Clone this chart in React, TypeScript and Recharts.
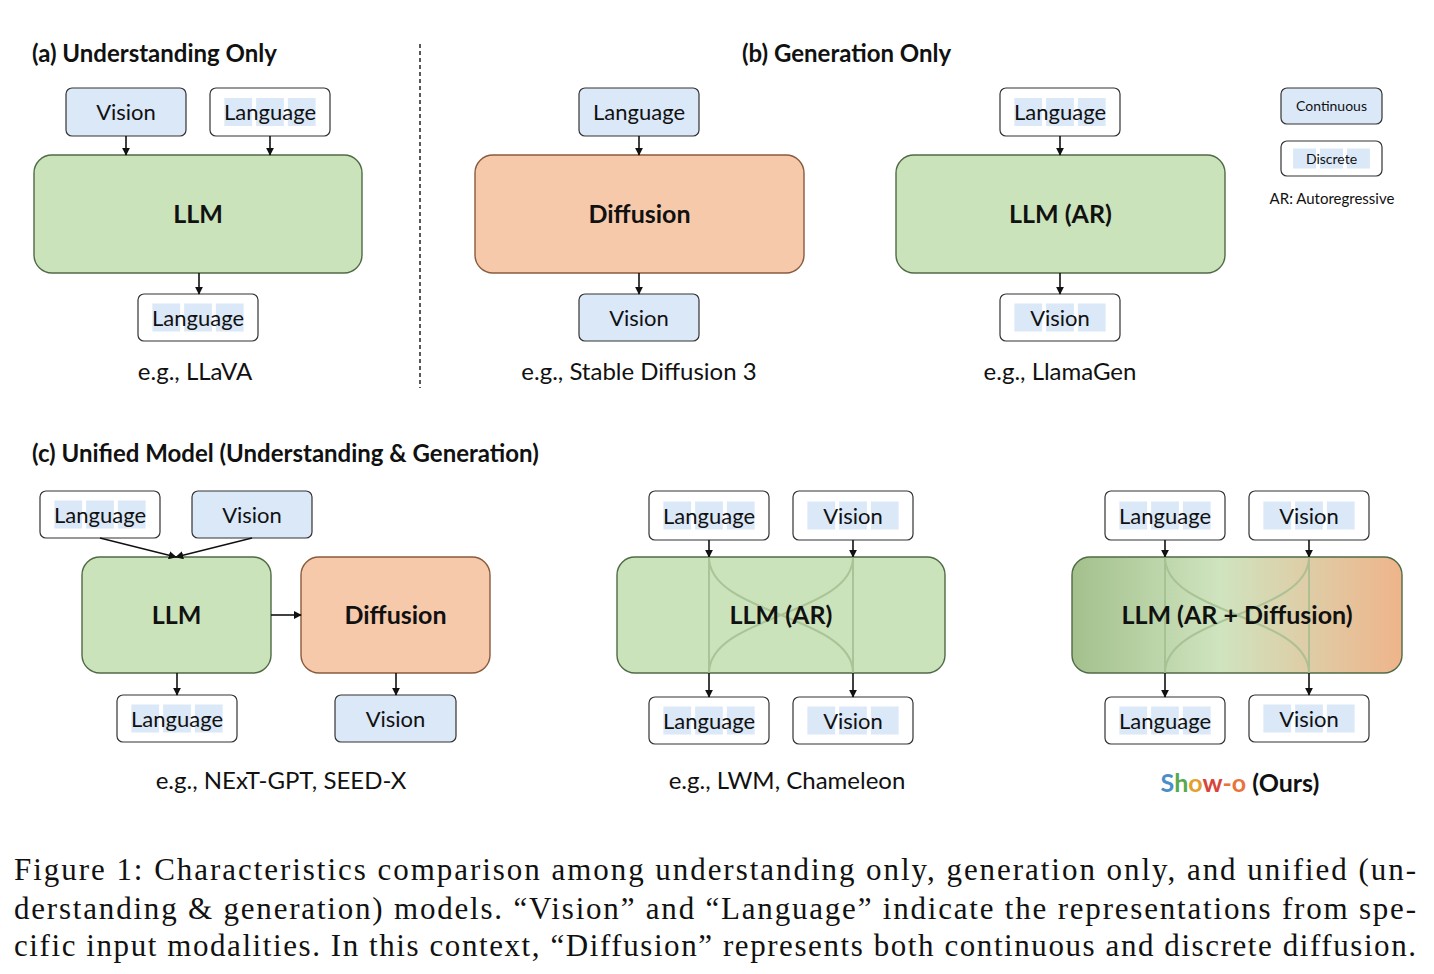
import React from 'react';
import { ComposedChart, Scatter, XAxis, YAxis } from 'recharts';

const W = 1434;
const H = 974;
const FONT = 'Lato, "Open Sans", sans-serif';

// boxes: label, x, y, w, h, kind
const smallBoxes = [
  { label: 'Vision', x: 66, y: 88, w: 120, h: 48, kind: 'cont' },
  { label: 'Language', x: 210, y: 88, w: 120, h: 48, kind: 'disc' },
  { label: 'Language', x: 138, y: 294, w: 120, h: 47, kind: 'disc' },
  { label: 'Language', x: 579, y: 88, w: 120, h: 48, kind: 'cont' },
  { label: 'Vision', x: 579, y: 294, w: 120, h: 47, kind: 'cont' },
  { label: 'Language', x: 1000, y: 88, w: 120, h: 48, kind: 'disc' },
  { label: 'Vision', x: 1000, y: 294, w: 120, h: 47, kind: 'disc' },
  { label: 'Language', x: 40, y: 491, w: 120, h: 47, kind: 'disc' },
  { label: 'Vision', x: 192, y: 491, w: 120, h: 47, kind: 'cont' },
  { label: 'Language', x: 117, y: 695, w: 120, h: 47, kind: 'disc' },
  { label: 'Vision', x: 335, y: 695, w: 121, h: 47, kind: 'cont' },
  { label: 'Language', x: 649, y: 491, w: 120, h: 49, kind: 'disc' },
  { label: 'Vision', x: 793, y: 491, w: 120, h: 49, kind: 'disc' },
  { label: 'Language', x: 649, y: 697, w: 120, h: 47, kind: 'disc' },
  { label: 'Vision', x: 793, y: 697, w: 120, h: 47, kind: 'disc' },
  { label: 'Language', x: 1105, y: 491, w: 120, h: 49, kind: 'disc' },
  { label: 'Vision', x: 1249, y: 491, w: 120, h: 49, kind: 'disc' },
  { label: 'Language', x: 1105, y: 697, w: 120, h: 47, kind: 'disc' },
  { label: 'Vision', x: 1249, y: 695, w: 120, h: 47, kind: 'disc' },
];

const legendBoxes = [
  { label: 'Continuous', x: 1281, y: 88, w: 101, h: 36, kind: 'cont' },
  { label: 'Discrete', x: 1281, y: 141, w: 101, h: 35, kind: 'disc' },
];

const bigBoxes = [
  { label: 'LLM', x: 34, y: 155, w: 328, h: 118, kind: 'green' },
  { label: 'Diffusion', x: 475, y: 155, w: 329, h: 118, kind: 'orange' },
  { label: 'LLM (AR)', x: 896, y: 155, w: 329, h: 118, kind: 'green' },
  { label: 'LLM', x: 82, y: 557, w: 189, h: 116, kind: 'green' },
  { label: 'Diffusion', x: 301, y: 557, w: 189, h: 116, kind: 'orange' },
  { label: 'LLM (AR)', x: 617, y: 557, w: 328, h: 116, kind: 'green', cross: [709, 853] },
  { label: 'LLM (AR + Diffusion)', x: 1072, y: 557, w: 330, h: 116, kind: 'grad', cross: [1165, 1309] },
];

const arrows = [
  { x: 126, y: 136, x2: 126, y2: 155 },
  { x: 270, y: 136, x2: 270, y2: 155 },
  { x: 199, y: 273, x2: 199, y2: 294 },
  { x: 639, y: 136, x2: 639, y2: 155 },
  { x: 639, y: 273, x2: 639, y2: 294 },
  { x: 1060, y: 136, x2: 1060, y2: 155 },
  { x: 1060, y: 273, x2: 1060, y2: 294 },
  { x: 100, y: 538, x2: 176, y2: 557 },
  { x: 252, y: 538, x2: 176, y2: 557 },
  { x: 271, y: 615, x2: 301, y2: 615 },
  { x: 177, y: 673, x2: 177, y2: 695 },
  { x: 396, y: 673, x2: 396, y2: 695 },
  { x: 709, y: 540, x2: 709, y2: 557 },
  { x: 853, y: 540, x2: 853, y2: 557 },
  { x: 709, y: 673, x2: 709, y2: 697 },
  { x: 853, y: 673, x2: 853, y2: 697 },
  { x: 1165, y: 540, x2: 1165, y2: 557 },
  { x: 1309, y: 540, x2: 1309, y2: 557 },
  { x: 1165, y: 673, x2: 1165, y2: 697 },
  { x: 1309, y: 673, x2: 1309, y2: 695 },
];

const labels = [
  { text: '(a) Understanding Only', x: 32, y: 62, size: 24, bold: true, anchor: 'start' },
  { text: '(b) Generation Only', x: 742, y: 62, size: 24, bold: true, anchor: 'start' },
  { text: '(c) Unified Model (Understanding & Generation)', x: 32, y: 462, size: 24, bold: true, anchor: 'start' },
  { text: 'e.g., LLaVA', x: 195, y: 380, size: 24, bold: false, anchor: 'middle' },
  { text: 'e.g., Stable Diffusion 3', x: 639, y: 380, size: 24, bold: false, anchor: 'middle' },
  { text: 'e.g., LlamaGen', x: 1060, y: 380, size: 24, bold: false, anchor: 'middle' },
  { text: 'AR: Autoregressive', x: 1332, y: 204, size: 15, bold: false, anchor: 'middle' },
  { text: 'e.g., NExT-GPT, SEED-X', x: 281, y: 789, size: 24, bold: false, anchor: 'middle' },
  { text: 'e.g., LWM, Chameleon', x: 787, y: 789, size: 24, bold: false, anchor: 'middle' },
];

const captionLines = [
  'Figure 1: Characteristics comparison among understanding only, generation only, and unified (un-',
  'derstanding & generation) models. \u201CVision\u201D and \u201CLanguage\u201D indicate the representations from spe-',
  'cific input modalities. In this context, \u201CDiffusion\u201D represents both continuous and discrete diffusion.',
];
const captionY = [880, 919, 956];

const SmallBox = (p: any) => {
  const { cx, cy, payload: d } = p;
  const x = cx, y = cy;
  const small = d.h < 40;
  const segs = [];
  if (d.kind === 'disc') {
    const sw = d.w * 0.76, sx = x + (d.w - sw) / 2, gap = 4, each = (sw - 2 * gap) / 3;
    const sh = small ? 20 : 28;
    for (let i = 0; i < 3; i++)
      segs.push(<rect key={i} x={sx + i * (each + gap)} y={y + (d.h - sh) / 2} width={each} height={sh} fill="#dae8f8" />);
  }
  return (
    <g>
      <rect x={x} y={y} width={d.w} height={d.h} rx={6} fill={d.kind === 'cont' ? '#dae8f8' : '#fff'} stroke="#333" strokeWidth={1.2} />
      {segs}
      <text x={x + d.w / 2} y={y + d.h / 2 + (small ? 5 : 8)} textAnchor="middle" fontFamily={FONT} fontSize={small ? 14 : 22} fill="#111">{d.label}</text>
    </g>
  );
};

const BigBox = (p: any) => {
  const { cx, cy, payload: d } = p;
  const x = cx, y = cy;
  const fill = d.kind === 'green' ? '#cbe3bb' : d.kind === 'orange' ? '#f6c9ab' : 'url(#showo)';
  const stroke = d.kind === 'orange' ? '#8a5a3c' : '#4f6b45';
  const cr = d.cross;
  return (
    <g>
      <rect x={x} y={y} width={d.w} height={d.h} rx={18} fill={fill} stroke={stroke} strokeWidth={1.4} />
      {cr && (
        <g stroke="#a3bd8f" strokeWidth={2} fill="none" opacity={0.8}>
          <line x1={cr[0]} y1={y} x2={cr[0]} y2={y + d.h} />
          <line x1={cr[1]} y1={y} x2={cr[1]} y2={y + d.h} />
          <path d={`M${cr[0]},${y} C${cr[0]},${y + d.h / 2} ${cr[1]},${y + d.h / 2} ${cr[1]},${y + d.h}`} />
          <path d={`M${cr[1]},${y} C${cr[1]},${y + d.h / 2} ${cr[0]},${y + d.h / 2} ${cr[0]},${y + d.h}`} />
        </g>
      )}
      <text x={x + d.w / 2} y={y + d.h / 2 + 9} textAnchor="middle" fontFamily={FONT} fontWeight={700} fontSize={25} fill="#111">{d.label}</text>
    </g>
  );
};

const Arrow = (p: any) => {
  const { cx, cy, payload: d } = p;
  return <line x1={cx} y1={cy} x2={cx + d.x2 - d.x} y2={cy + d.y2 - d.y} stroke="#111" strokeWidth={1.6} markerEnd="url(#arr)" />;
};

const Label = (p: any) => {
  const { cx, cy, payload: d } = p;
  return <text x={cx} y={cy} textAnchor={d.anchor} fontFamily={FONT} fontWeight={d.bold ? 700 : 400} fontSize={d.size} fill="#111">{d.text}</text>;
};

export default function App() {
  return (
    <div style={{ position: 'absolute', left: 0, top: 0, width: W, height: H, background: '#fff' }}>
      <ComposedChart width={W} height={H} margin={{ top: 0, right: 0, bottom: 0, left: 0 }}>
        <defs>
          <marker id="arr" viewBox="0 0 10 10" refX="9" refY="5" markerWidth="5" markerHeight="5" orient="auto">
            <path d="M0,0 L10,5 L0,10 z" fill="#111" />
          </marker>
          <linearGradient id="showo" x1="0" y1="0" x2="1" y2="0">
            <stop offset="0%" stopColor="#a3c08c" />
            <stop offset="45%" stopColor="#cfe4bf" />
            <stop offset="100%" stopColor="#efb48b" />
          </linearGradient>
        </defs>
        <XAxis type="number" dataKey="x" domain={[0, W]} hide />
        <YAxis type="number" dataKey="y" domain={[0, H]} reversed hide />
        <Scatter data={[{ x: 420, y: 44 }]} isAnimationActive={false}
          shape={(p: any) => <line x1={p.cx} y1={p.cy} x2={p.cx} y2={p.cy + 344} stroke="#222" strokeWidth={1.5} strokeDasharray="4 3" />} />
        <Scatter data={bigBoxes} isAnimationActive={false} shape={BigBox} />
        <Scatter data={smallBoxes} isAnimationActive={false} shape={SmallBox} />
        <Scatter data={legendBoxes} isAnimationActive={false} shape={SmallBox} />
        <Scatter data={arrows} isAnimationActive={false} shape={Arrow} />
        <Scatter data={labels} isAnimationActive={false} shape={Label} />
        <Scatter data={[{ x: 1240, y: 792 }]} isAnimationActive={false}
          shape={(p: any) => (
            <text x={p.cx} y={p.cy} textAnchor="middle" fontFamily={FONT} fontWeight={700} fontSize={25}>
              <tspan fill="#4a8fc7">S</tspan><tspan fill="#5aa84e">h</tspan><tspan fill="#e3a02f">o</tspan><tspan fill="#d8443b">w</tspan>
              <tspan fill="#e8743a">-o</tspan><tspan fill="#111"> (Ours)</tspan>
            </text>
          )} />
        <Scatter data={captionLines.map((t, i) => ({ x: 14, y: captionY[i], t }))} isAnimationActive={false}
          shape={(p: any) => (
            <text x={p.cx} y={p.cy} textLength={1402} lengthAdjust="spacing" fontFamily='"Liberation Serif", serif' fontSize={31} fill="#111">{p.payload.t}</text>
          )} />
      </ComposedChart>
    </div>
  );
}
